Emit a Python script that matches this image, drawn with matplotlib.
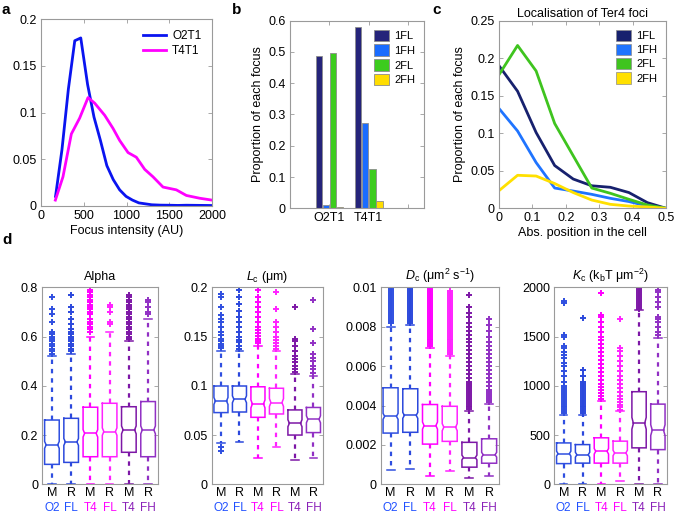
import matplotlib
matplotlib.use("Agg")
import matplotlib.pyplot as plt
from matplotlib.patches import Patch
from matplotlib.transforms import blended_transform_factory

plt.rcParams["font.family"] = ["Liberation Sans", "DejaVu Sans"]
plt.rcParams["mathtext.fontset"] = "custom"
plt.rcParams["mathtext.rm"] = "Liberation Sans"
plt.rcParams["mathtext.it"] = "Liberation Sans:italic"
plt.rcParams["font.size"] = 9

# ---------------- panel a: focus intensity distributions
a_x_o2 = [170, 245, 320, 395, 465, 545, 620, 695, 770, 845, 920, 995, 1070,
          1145, 1220, 1295, 1400, 1500, 1600, 1700, 1800, 1900, 2000]
a_o2t1 = [0.010, 0.060, 0.125, 0.177, 0.180, 0.130, 0.095, 0.070, 0.043, 0.028,
          0.017, 0.010, 0.006, 0.003, 0.002, 0.001, 0.0006, 0.0005, 0.0003,
          0.0005, 0.0004, 0.0003, 0.0002]
a_x_t4 = [168, 257, 355, 452, 550, 628, 745, 842, 920, 1018, 1115, 1213, 1310,
          1427, 1583, 1700, 1856, 2000]
a_t4t1 = [0.006, 0.031, 0.077, 0.094, 0.116, 0.110, 0.097, 0.083, 0.070, 0.057,
          0.052, 0.039, 0.031, 0.020, 0.017, 0.011, 0.008, 0.006]

# ---------------- panel b: proportion of each focus type
b_groups = ["O2T1", "T4T1"]
b_types = ["1FL", "1FH", "2FL", "2FH"]
b_values = {
    "1FL": [0.488, 0.581],
    "1FH": [0.012, 0.272],
    "2FL": [0.496, 0.127],
    "2FH": [0.005, 0.022],
}
type_colors = {"1FL": "#25247a", "1FH": "#1a6cff", "2FL": "#3ccc1e", "2FH": "#ffdd00"}
c_line_colors = {"1FL": "#17216e", "1FH": "#1f74ff", "2FL": "#3fc41f", "2FH": "#ffe000"}

# ---------------- panel c: localisation of Ter4 foci
c_pos = [0.0, 0.0556, 0.1111, 0.1667, 0.2222, 0.2778, 0.3333, 0.3889, 0.4444, 0.5]
c_values = {
    "1FL": [0.190, 0.156, 0.101, 0.057, 0.039, 0.030, 0.028, 0.021, 0.0075, 0.0],
    "1FH": [0.133, 0.103, 0.061, 0.027, 0.023, 0.0186, 0.0133, 0.009, 0.003, 0.0],
    "2FL": [0.178, 0.217, 0.183, 0.113, 0.070, 0.027, 0.020, 0.012, 0.0044, 0.0],
    "2FH": [0.0235, 0.044, 0.043, 0.033, 0.021, 0.011, 0.0053, 0.003, 0.0018, 0.0],
}

# ---------------- panel d: boxplot statistics (6 boxes per panel)
d_ticks = ["M", "R", "M", "R", "M", "R"]
d_sub = ["O2", "FL", "T4", "FL", "T4", "FH"]
d_colors = ["#2f4fe0", "#2b48dc", "#ff00ff", "#ff22ff", "#7d17a6", "#9130c4"]
d_sub_colors = ["#2050ff", "#2050ff", "#ff00ff", "#ff00ff", "#8a20b8", "#8a20b8"]

alpha_med = [0.160, 0.172, 0.207, 0.214, 0.221, 0.221]
alpha_q1 = [0.081, 0.089, 0.112, 0.112, 0.130, 0.112]
alpha_q3 = [0.261, 0.268, 0.313, 0.329, 0.315, 0.336]
alpha_lo = [0.0, 0.0, 0.0, 0.0, 0.0, 0.0]
alpha_hi = [0.52, 0.53, 0.60, 0.62, 0.58, 0.67]
alpha_notch = [0.014, 0.014, 0.015, 0.015, 0.016, 0.016]
alpha_fliers = [
    [0.76, 0.71, 0.69, 0.66, 0.62, 0.61, 0.60, 0.59, 0.58, 0.57, 0.56, 0.55, 0.54, 0.53],
    [0.77, 0.72, 0.70, 0.67, 0.65, 0.63, 0.62, 0.61, 0.60, 0.59, 0.58, 0.57, 0.56, 0.55, 0.54],
    [0.80, 0.79, 0.78, 0.77, 0.76, 0.75, 0.74, 0.73, 0.72, 0.71, 0.70, 0.69, 0.67, 0.66,
     0.65, 0.64, 0.63, 0.62],
    [0.73, 0.72, 0.70, 0.66, 0.65],
    [0.77, 0.76, 0.75, 0.74, 0.73, 0.72, 0.71, 0.70, 0.69, 0.68, 0.67, 0.66, 0.65, 0.64,
     0.63, 0.62, 0.61, 0.60, 0.59],
    [0.75, 0.74, 0.72, 0.70, 0.69],
]

lc_med = [0.0846, 0.0863, 0.0816, 0.083, 0.062, 0.066]
lc_q1 = [0.0728, 0.0734, 0.068, 0.0714, 0.050, 0.0525]
lc_q3 = [0.0998, 0.0998, 0.099, 0.0975, 0.0755, 0.078]
lc_lo = [0.042, 0.0426, 0.0264, 0.038, 0.0247, 0.0264]
lc_hi = [0.135, 0.135, 0.140, 0.135, 0.112, 0.110]
lc_notch = [0.0035, 0.0035, 0.004, 0.004, 0.0035, 0.0035]
lc_fliers = [
    [0.193, 0.190, 0.180, 0.172, 0.168, 0.165, 0.160, 0.155, 0.152, 0.148, 0.145, 0.142,
     0.140, 0.138, 0.0375, 0.0335],
    [0.197, 0.190, 0.183, 0.176, 0.170, 0.165, 0.160, 0.155, 0.150, 0.147, 0.144, 0.140,
     0.137],
    [0.200, 0.197, 0.190, 0.185, 0.180, 0.175, 0.170, 0.165, 0.160, 0.157, 0.154, 0.151,
     0.148, 0.145, 0.143],
    [0.195, 0.178, 0.165, 0.160, 0.155, 0.150, 0.147, 0.143, 0.140, 0.137],
    [0.180, 0.148, 0.145, 0.140, 0.135, 0.130, 0.127, 0.124, 0.120, 0.117, 0.114],
    [0.187, 0.158, 0.143, 0.132, 0.128, 0.125, 0.120, 0.117, 0.113],
]

dc_med = [0.00345, 0.0035, 0.00298, 0.0029, 0.00136, 0.0015]
dc_q1 = [0.0026, 0.00264, 0.00204, 0.00218, 0.00087, 0.00107]
dc_q3 = [0.0049, 0.00485, 0.00405, 0.00396, 0.00213, 0.00231]
dc_lo = [0.00073, 0.00077, 0.0004, 0.0007, 0.0003, 0.0004]
dc_hi = [0.0080, 0.0081, 0.0069, 0.0065, 0.0037, 0.0041]
dc_notch = [0.00015, 0.00015, 0.00018, 0.00018, 0.00012, 0.00012]
dc_fliers = [
    [0.0082, 0.0083, 0.0084, 0.0085, 0.0086, 0.0087, 0.0088, 0.0089, 0.0090, 0.0091,
     0.0092, 0.0093, 0.0094, 0.0095, 0.0096, 0.0097, 0.0098, 0.0099, 0.0100],
    [0.0082, 0.0083, 0.0084, 0.0085, 0.0086, 0.0087, 0.0088, 0.0089, 0.0090, 0.0091,
     0.0092, 0.0093, 0.0094, 0.0095, 0.0096, 0.0097, 0.0098, 0.0099, 0.0100],
    [0.0070, 0.0071, 0.0072, 0.0073, 0.0074, 0.0075, 0.0076, 0.0077, 0.0078, 0.0079,
     0.0080, 0.0081, 0.0082, 0.0083, 0.0084, 0.0085, 0.0086, 0.0087, 0.0088, 0.0089,
     0.0090, 0.0091, 0.0092, 0.0093, 0.0094, 0.0095, 0.0096, 0.0097, 0.0098, 0.0099,
     0.0100],
    [0.0066, 0.0067, 0.0068, 0.0069, 0.0070, 0.0071, 0.0072, 0.0073, 0.0074, 0.0075,
     0.0076, 0.0077, 0.0078, 0.0079, 0.0080, 0.0081, 0.0082, 0.0083, 0.0084, 0.0085,
     0.0086, 0.0087, 0.0088, 0.0089, 0.0090, 0.0091, 0.0092, 0.0093, 0.0094, 0.0095,
     0.0096, 0.0097, 0.0098],
    [0.0038, 0.0039, 0.0040, 0.0041, 0.0042, 0.0043, 0.0044, 0.0045, 0.0046, 0.0047,
     0.0048, 0.0049, 0.0050, 0.0051, 0.0052, 0.0054, 0.0056, 0.0058, 0.0060, 0.0062,
     0.0064, 0.0066, 0.0068, 0.0070, 0.0072, 0.0074, 0.0076, 0.0078, 0.0080, 0.0082,
     0.0085, 0.0087, 0.0090, 0.0096],
    [0.0042, 0.0043, 0.0044, 0.0045, 0.0046, 0.0047, 0.0048, 0.0050, 0.0052, 0.0054,
     0.0056, 0.0058, 0.0060, 0.0062, 0.0064, 0.0066, 0.0068, 0.0070, 0.0072, 0.0075,
     0.0078, 0.0081, 0.0084],
]

kc_med = [311, 300, 335, 318, 619, 550]
kc_q1 = [210, 215, 215, 215, 370, 352]
kc_q3 = [420, 403, 472, 438, 940, 814]
kc_lo = [0, 0, 0, 30, 0, 0]
kc_hi = [700, 700, 850, 740, 1770, 1490]
kc_notch = [25, 25, 28, 28, 60, 55]
kc_fliers = [
    [1860, 1840, 1520, 1500, 1400, 1380, 1340, 1310, 1280, 1230, 1200, 1150, 1100, 1040,
     1000, 980, 960, 940, 920, 900, 880, 860, 840, 820, 800, 780, 760, 740, 720],
    [1690, 1160, 1100, 1040, 1020, 1000, 980, 960, 940, 920, 900, 880, 860, 840, 820,
     800, 780, 760, 740, 720],
    [1940, 1720, 1700, 1650, 1600, 1550, 1500, 1460, 1420, 1380, 1340, 1300, 1260, 1220,
     1180, 1140, 1100, 1060, 1020, 990, 960, 930, 900, 870],
    [1680, 1380, 1350, 1300, 1250, 1200, 1150, 1100, 1060, 1020, 980, 940, 900, 870,
     840, 810, 780, 750],
    [2000, 1980, 1960, 1940, 1920, 1900, 1880, 1860, 1840, 1820, 1800, 1780],
    [2000, 1970, 1950, 1900, 1850, 1800, 1700, 1680, 1650, 1600, 1550, 1520],
]

W, H = 679, 515
fig = plt.figure(figsize=(W / 100, H / 100), dpi=100)
SPINE = "#9a9a9a"


def px_axes(left, top, right, bottom):
    return fig.add_axes([left / W, 1 - bottom / H, (right - left) / W, (bottom - top) / H])


def matlab_style(ax):
    for s in ax.spines.values():
        s.set_color(SPINE)
        s.set_linewidth(0.8)
    ax.tick_params(direction="in", top=True, right=True, length=3, width=0.6,
                   color=SPINE, labelsize=9, pad=3)


# a
ax = px_axes(41, 19.3, 212, 205.7)
ax.plot(a_x_o2, a_o2t1, color="#0a14f0", lw=2, label="O2T1")
ax.plot(a_x_t4, a_t4t1, color="#ff00ff", lw=2, label="T4T1")
ax.set_xlim(0, 2000)
ax.set_ylim(0, 0.2)
ax.set_xticks([0, 500, 1000, 1500, 2000])
ax.set_yticks([0, 0.05, 0.1, 0.15, 0.2])
ax.set_yticklabels(["0", "0.05", "0.1", "0.15", "0.2"])
ax.set_xlabel("Focus intensity (AU)", labelpad=2)
matlab_style(ax)
ax.legend(loc="upper right", frameon=False, fontsize=8.5, handlelength=2.0,
          borderaxespad=0.5, labelspacing=0.3, handletextpad=0.5)

# b
ax = px_axes(290, 20.7, 424, 208.3)
bw = 0.16
offsets = [-0.27, -0.09, 0.09, 0.27]
for k, t in enumerate(b_types):
    xs = [i + 1 + offsets[k] for i in range(len(b_groups))]
    ax.bar(xs, b_values[t], width=bw, color=type_colors[t], edgecolor="#8c8c8c",
           linewidth=0.6, label=t)
ax.set_xlim(0, 3.4)
ax.set_ylim(0, 0.6)
ax.set_xticks([1, 2, 3])
ax.set_xticklabels(b_groups + [""])
ax.set_yticks([0, 0.1, 0.2, 0.3, 0.4, 0.5, 0.6])
ax.set_yticklabels(["0", "0.1", "0.2", "0.3", "0.4", "0.5", "0.6"])
ax.set_ylabel("Proportion of each focus", labelpad=3)
matlab_style(ax)
ax.legend(loc="upper right", frameon=False, fontsize=8, handlelength=1.3,
          handleheight=1.2, borderaxespad=0.4, labelspacing=0.3, handletextpad=0.5)

# c
ax = px_axes(499, 20.7, 666, 208.3)
for t in b_types:
    ax.plot(c_pos, c_values[t], color=c_line_colors[t], lw=2)
ax.set_xlim(0, 0.5)
ax.set_ylim(0, 0.25)
ax.set_xticks([0, 0.1, 0.2, 0.3, 0.4, 0.5])
ax.set_xticklabels(["0", "0.1", "0.2", "0.3", "0.4", "0.5"])
ax.set_yticks([0, 0.05, 0.1, 0.15, 0.2, 0.25])
ax.set_yticklabels(["0", "0.05", "0.1", "0.15", "0.2", "0.25"])
ax.set_xlabel("Abs. position in the cell", labelpad=2)
ax.set_ylabel("Proportion of each focus", labelpad=3)
ax.set_title("Localisation of Ter4 foci", fontsize=9, pad=3)
matlab_style(ax)
handles = [Patch(facecolor=c_line_colors[t], edgecolor="#8c8c8c", linewidth=0.5, label=t)
           for t in b_types]
ax.legend(handles=handles, loc="upper right", frameon=False, fontsize=8, handlelength=1.3,
          handleheight=1.2, borderaxespad=0.4, labelspacing=0.25, handletextpad=0.5)


# d
def draw_box(ax, x, med, q1, q3, lo, hi, notch, fliers, color):
    hw = 0.38
    nw = 0.30
    xs = [x - hw, x + hw, x + hw, x + nw, x + hw, x + hw, x - hw, x - hw, x - nw, x - hw, x - hw]
    ys = [q3, q3, med + notch, med, med - notch, q1, q1, med - notch, med, med + notch, q3]
    ax.plot(xs, ys, color=color, lw=1.1, solid_joinstyle="miter")
    ax.plot([x - nw, x + nw], [med, med], color=color, lw=1.1)
    ax.plot([x, x], [q3, hi], color=color, lw=1.6, ls=(0, (2, 2.2)))
    ax.plot([x, x], [q1, lo], color=color, lw=1.6, ls=(0, (2, 2.2)))
    ax.plot([x - 0.2, x + 0.2], [hi, hi], color=color, lw=1.1)
    ax.plot([x - 0.2, x + 0.2], [lo, lo], color=color, lw=1.1)
    ax.plot([x] * len(fliers), fliers, ls="none", marker="+", ms=5, mew=1.4, color=color)


d_panels = [
    ("Alpha", (42.3, 157.7), (0, 0.8), [0, 0.2, 0.4, 0.6, 0.8], ["0", "0.2", "0.4", "0.6", "0.8"],
     alpha_med, alpha_q1, alpha_q3, alpha_lo, alpha_hi, alpha_notch, alpha_fliers),
    (r"$L_{\mathrm{c}}$ (μm)", (211.7, 322.7), (0, 0.2), [0, 0.05, 0.1, 0.15, 0.2],
     ["0", "0.05", "0.1", "0.15", "0.2"],
     lc_med, lc_q1, lc_q3, lc_lo, lc_hi, lc_notch, lc_fliers),
    (r"$D_{\mathrm{c}}$ (μm$^{2}$ s$^{-1}$)", (380.7, 499), (0, 0.01),
     [0, 0.002, 0.004, 0.006, 0.008, 0.01], ["0", "0.002", "0.004", "0.006", "0.008", "0.01"],
     dc_med, dc_q1, dc_q3, dc_lo, dc_hi, dc_notch, dc_fliers),
    (r"$K_{\mathrm{c}}$ (k$_{\mathrm{b}}$T μm$^{-2}$)", (554.3, 667.3), (0, 2000),
     [0, 500, 1000, 1500, 2000], ["0", "500", "1000", "1500", "2000"],
     kc_med, kc_q1, kc_q3, kc_lo, kc_hi, kc_notch, kc_fliers),
]

for title, (l, r), ylim, yt, ytl, med, q1, q3, lo, hi, notch, fl in d_panels:
    ax = px_axes(l, 287.3, r, 484.3)
    for i in range(6):
        draw_box(ax, i + 1, med[i], q1[i], q3[i], lo[i], hi[i], notch[i], fl[i], d_colors[i])
    ax.set_xlim(0.5, 6.5)
    ax.set_ylim(*ylim)
    ax.set_yticks(yt)
    ax.set_yticklabels(ytl)
    ax.set_xticks(range(1, 7))
    ax.set_xticklabels(d_ticks)
    ax.set_title(title, fontsize=9, pad=5)
    matlab_style(ax)
    ax.tick_params(axis="x", length=0, pad=2)
    tr = blended_transform_factory(ax.transData, ax.transAxes)
    for i in range(6):
        ax.text(i + 1, -0.088, d_sub[i], transform=tr, ha="center", va="top",
                color=d_sub_colors[i], fontsize=8.5)

# panel letters
for letter, x, y in [("a", 2, 10), ("b", 232, 10), ("c", 432, 10), ("d", 2, 240)]:
    fig.text(x / W, 1 - y / H, letter, fontsize=11, fontweight="bold", va="center")

fig.savefig("out.png", dpi=100)
